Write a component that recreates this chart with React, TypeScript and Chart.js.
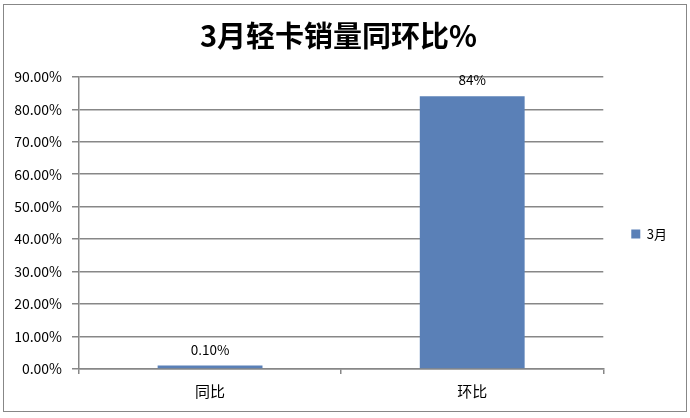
import React, { useEffect, useRef } from 'react';
import { Chart, registerables, Plugin } from 'chart.js';

Chart.register(...registerables);

// chart data
const categories = ['同比', '环比'];
const seriesName = '3月';
const values = [0.1, 84];
const valueLabels = ['0.10%', '84%'];
const yTicks = [0, 10, 20, 30, 40, 50, 60, 70, 80, 90];

const BAR_COLOR = '#5a80b7';
const GRID_COLOR = '#878787';
const CJK = '"Noto Sans CJK SC", "Noto Sans", sans-serif';

// draws the value text above each bar
const barLabels: Plugin<'bar'> = {
  id: 'barLabels',
  afterDatasetsDraw(chart) {
    const { ctx } = chart;
    const meta = chart.getDatasetMeta(0);
    ctx.save();
    ctx.font = `13.5px ${CJK}`;
    ctx.fillStyle = '#000';
    ctx.textAlign = 'center';
    ctx.textBaseline = 'middle';
    meta.data.forEach((bar, i) => {
      ctx.fillText(valueLabels[i], bar.x, bar.y - 16);
    });
    ctx.restore();
  },
};

const App: React.FC = () => {
  const canvasRef = useRef<HTMLCanvasElement>(null);

  useEffect(() => {
    if (!canvasRef.current) return;
    const chart = new Chart(canvasRef.current, {
      type: 'bar',
      data: {
        labels: categories,
        datasets: [
          {
            label: seriesName,
            data: values,
            backgroundColor: BAR_COLOR,
            borderWidth: 0,
            categoryPercentage: 1,
            barPercentage: 0.4,
            minBarLength: 3.5,
          },
        ],
      },
      options: {
        animation: false,
        responsive: false,
        layout: { padding: { top: 8, left: 0, right: 13, bottom: 0 } },
        plugins: {
          title: {
            display: true,
            text: '3月轻卡销量同环比%',
            color: '#000',
            font: { family: CJK, size: 29, weight: 'bold' },
            padding: { top: 11, bottom: 23 },
          },
          legend: {
            position: 'right',
            fullSize: false,
            align: 'center',
            title: { display: true, text: '', font: { size: 1 }, padding: { top: 21, bottom: 0 } },
            labels: {
              boxWidth: 9,
              boxHeight: 9,
              padding: 28,
              color: '#000',
              font: { family: CJK, size: 13 },
            },
          },
          tooltip: { enabled: false },
        },
        scales: {
          x: {
            afterFit: (scale) => {
              scale.height = 49;
            },
            grid: {
              display: true,
              drawOnChartArea: false,
              drawTicks: true,
              tickLength: 5,
              offset: true,
              color: GRID_COLOR,
              lineWidth: 1.5,
            },
            border: { display: true, color: GRID_COLOR, width: 1.5 },
            ticks: { color: '#000', padding: 8, font: { family: CJK, size: 15 } },
          },
          y: {
            min: 0,
            max: 90,
            afterFit: (scale) => {
              scale.width = 79;
            },
            afterBuildTicks: (scale) => {
              scale.ticks = yTicks.map((v) => ({ value: v }));
            },
            grid: {
              color: GRID_COLOR,
              lineWidth: 1.5,
              tickLength: 7,
            },
            border: { display: true, color: GRID_COLOR, width: 1.5 },
            ticks: {
              color: '#000',
              padding: 10,
              font: { family: CJK, size: 14 },
              callback: (v) => Number(v).toFixed(2) + '%',
            },
          },
        },
      },
      plugins: [barLabels],
    });
    return () => chart.destroy();
  }, []);

  return (
    <div style={{ position: 'absolute', left: 0, top: 0, width: 690, height: 418, background: '#fff' }}>
      <div
        style={{
          position: 'absolute',
          left: 3,
          top: 4,
          width: 684,
          height: 408,
          boxSizing: 'border-box',
          border: '1.5px solid #878787',
        }}
      />
      <canvas ref={canvasRef} width={690} height={418} style={{ position: 'absolute', left: 0, top: 0 }} />
    </div>
  );
};

export default App;
